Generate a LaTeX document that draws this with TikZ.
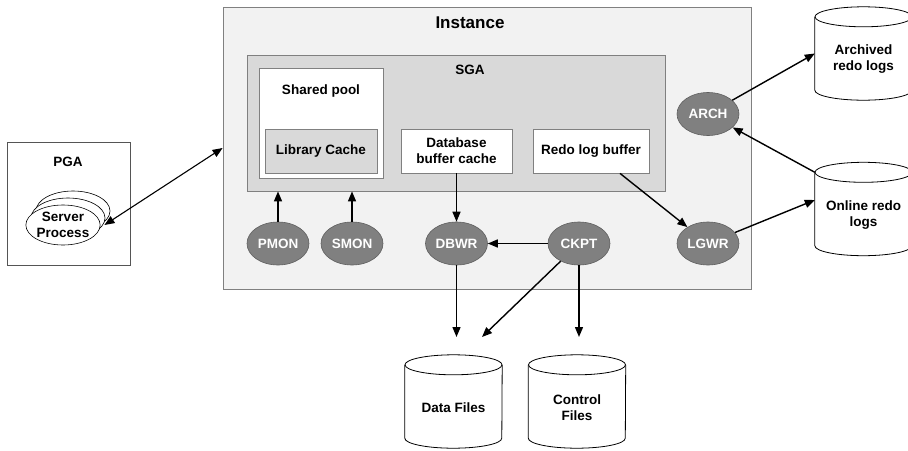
\documentclass[tikz,border=0pt]{standalone}
\usepackage{fontspec}
\setmainfont{Liberation Sans}
\usetikzlibrary{arrows.meta,shapes.geometric}

\definecolor{instfill}{HTML}{F2F2F2}
\definecolor{sgafill}{HTML}{D9D9D9}
\definecolor{boxgray}{HTML}{808080}
\definecolor{pgaedge}{HTML}{555555}
\definecolor{procfill}{HTML}{808080}
\definecolor{procedge}{HTML}{5E5E5E}

\begin{document}
\begin{tikzpicture}[x=1pt,y=-1pt,
  font=\fontsize{13.5}{16}\selectfont\bfseries,
  area/.style={draw=boxgray, line width=0.8pt, inner sep=0pt},
  membox/.style={area, fill=white, align=center, minimum height=44pt},
  proc/.style={ellipse, draw=procedge, line width=0.6pt, fill=procfill,
    text=white, minimum width=62pt, minimum height=43pt, inner sep=0pt},
  srvshape/.style={ellipse, draw=black, line width=0.6pt, fill=white,
    minimum width=74pt, minimum height=40pt, inner sep=0pt, align=center},
  store/.style={minimum width=97pt, minimum height=93pt, inner sep=0pt},
  cyllabel/.style={align=center, yshift=-6pt},
  arr/.style={-{Triangle[length=10pt,width=8pt]}, line width=1.4pt},
  dblarr/.style={{Triangle[length=10pt,width=8pt]}-{Triangle[length=10pt,width=8pt]}, line width=1.1pt}
]
\useasboundingbox (0,0) rectangle (908,450);

% Instance with the SGA and its memory areas
\node[area, fill=instfill, minimum width=528pt, minimum height=282pt] (inst) at (487,148) {};
\node (insttitle) at (470,23) {\fontsize{17}{20}\selectfont Instance};
\node[area, fill=sgafill, minimum width=418pt, minimum height=136pt] (sga) at (456,123) {};
\node (sgatitle) at (470,70) {SGA};
\node[area, fill=white, minimum width=124pt, minimum height=110pt] (spool) at (321,123) {};
\node (spooltitle) at (321,91) {Shared pool};
\node[membox, fill=sgafill, minimum width=112pt] (libcache) at (321,151) {Library Cache};
\node[membox, minimum width=111pt] (dbbuf) at (456.5,151) {Database\\buffer cache};
\node[membox, minimum width=116pt] (redobuf) at (591,151) {Redo log buffer};

% Background processes
\node[proc] (pmon) at (278,243.5) {PMON};
\node[proc] (smon) at (352,243.5) {SMON};
\node[proc] (dbwr) at (456.5,243.5) {DBWR};
\node[proc] (ckpt) at (579,243.5) {CKPT};
\node[proc] (lgwr) at (708,243.5) {LGWR};
\node[proc] (arch) at (708,114) {ARCH};

% PGA with stacked server processes
\node[draw=pgaedge, line width=0.8pt, minimum width=123pt, minimum height=123pt, inner sep=0pt] (pga) at (68.5,203.5) {};
\node (pgatitle) at (68,162) {PGA};
\node[srvshape] (srvback) at (73,211) {};
\node[srvshape] (srvmid) at (68,218) {};
\node[srvshape] (srv) at (63,225) {Server\\Process};

% Files on disk
\node[store, label={[cyllabel]center:Archived\\redo logs}] (archive) at (863.5,53.5) {};
\node[store, label={[cyllabel]center:Online redo\\logs}] (online) at (863.5,209) {};
\node[store, label={[cyllabel]center:Data Files}] (datafiles) at (453.5,401.5) {};
\node[store, label={[cyllabel]center:Control\\Files}] (ctrlfiles) at (577,401.5) {};
\foreach \c in {archive,online,datafiles,ctrlfiles}{
  \draw[line width=0.8pt] ([yshift=-10pt]\c.north) ellipse [x radius=48.5pt, y radius=10pt];
  \draw[line width=0.8pt] ([yshift=-10pt]\c.north west) -- ([yshift=10pt]\c.south west)
    arc [start angle=180, end angle=360, x radius=48.5pt, y radius=10pt]
    -- ([yshift=-10pt]\c.north east);
}

% Arrow ends above the data and control files
\coordinate (ftop) at (0,337);
\coordinate (dhit) at (482,337);

% Connectors
\draw[dblarr] ([xshift=4pt]srv.east) -- (inst.west);
\draw[arr] (pmon) -- (pmon |- sga.south);
\draw[arr] (smon) -- (smon |- sga.south);
\draw[arr] (dbbuf) -- (dbwr);
\draw[arr] (ckpt) -- (dbwr);
\draw[arr] (dbwr) -- (dbwr |- ftop);
\draw[arr] (ckpt) -- (dhit);
\draw[arr] (ckpt) -- (ckpt |- ftop);
\draw[arr] ([xshift=29pt]redobuf.south) -- (lgwr);
\draw[arr] (lgwr) -- ([yshift=9pt]online.west);
\draw[arr] ([yshift=-10pt]online.north west) -- (arch);
\draw[arr] (arch) -- (archive.west);
\end{tikzpicture}
\end{document}
